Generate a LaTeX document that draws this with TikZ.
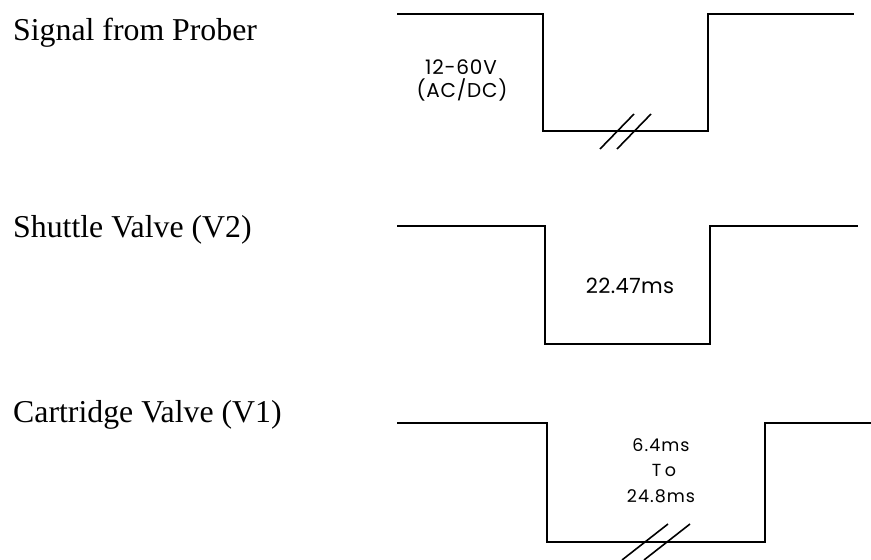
\documentclass[tikz,border=0pt]{standalone}
\usepackage{fontspec}
\setmainfont{Liberation Serif}
\newfontfamily\gothic{Poppins}
\tikzset{
    wave/.style={line width=2pt,draw=black,line join=miter},
    brk/.style={line width=1.6pt,draw=black},
    sig/.style={anchor=base west,inner sep=0pt,font=\fontsize{31.8}{36}\selectfont},
    val/.style={anchor=base,inner sep=0pt,font=\gothic\addfontfeature{LetterSpace=4}\fontsize{20}{22}\selectfont},
    small val/.style={val,font=\gothic\addfontfeature{LetterSpace=6}\fontsize{17.5}{20}\selectfont}
}

\begin{document}
\begin{tikzpicture}[x=1pt,y=-1pt]
  \useasboundingbox (0,0) rectangle (871,560);

  % signal names
  \node[sig] (prober)  at (13,40)  {Signal from Prober};
  \node[sig] (shuttle) at (13,237) {Shuttle Valve (V2)};
  \node[sig] (cart)    at (13,422) {Cartridge Valve (V1)};

  % waveforms: top / fall / bottom / rise / end
  \foreach \t/\f/\b/\r/\e in {13.5/543/131/708/854, 226/545/344/710/858, 423/547/542/765/890}{
    \draw[wave] (397,\t) -- (\f,\t) -- (\f,\b) -- (\r,\b) -- (\r,\t) -- (\e,\t);
  }

  % break marks
  \draw[brk] (600,149) -- (634,114);
  \draw[brk] (617,149) -- (651,114);
  \draw[brk] (622,560) -- (668,524);
  \draw[brk] (644,560) -- (690,524);

  % values
  \node[val] (volt)  at (461,74) {12-60V};
  \node[val] (acdc)  at (462,97) {(AC/DC)};
  \node[val,font=\gothic\addfontfeature{LetterSpace=2}\fontsize{21}{24}\selectfont] (tshut) at (630,293) {22.47ms};
  \node[small val] (tmin) at (661,451) {6.4ms};
  \node[small val,font=\gothic\addfontfeature{LetterSpace=20}\fontsize{17.5}{20}\selectfont] (tto) at (664,476) {To};
  \node[small val] (tmax) at (661,502) {24.8ms};
\end{tikzpicture}
\end{document}
